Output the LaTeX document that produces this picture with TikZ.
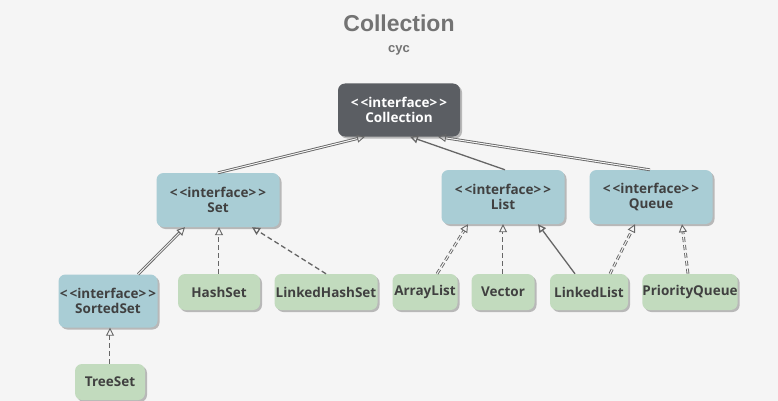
\documentclass[tikz,border=0pt]{standalone}
\usepackage{fontspec}
\setmainfont{Open Sans}
\newfontfamily\titlefont{Liberation Sans}
\usepackage{tikz}
\usetikzlibrary{arrows.meta, positioning, calc, shadows}
\definecolor{bgcol}{HTML}{F5F5F5}
\definecolor{ifacecol}{HTML}{A9CDD5}
\definecolor{implcol}{HTML}{C2DBBE}
\definecolor{rootcol}{HTML}{5B5E63}
\definecolor{textcol}{HTML}{404040}
\definecolor{linecol}{HTML}{666666}
\newcommand{\ifacetag}{<\kern2pt<interface>\kern2pt>}

\begin{document}
\begin{tikzpicture}[x=1pt, y=-1pt,
    box/.style={rounded corners=7pt, align=center, text=textcol, inner sep=2pt,
        font=\bfseries\fontsize{13.5}{15}\selectfont,
        drop shadow={shadow xshift=2pt, shadow yshift=-2pt, fill=black!28, opacity=1}},
    iface/.style={box, fill=ifacecol, minimum height=54pt},
    impl/.style={box, fill=implcol, minimum height=36pt},
    gen/.style={draw=linecol, line width=1.3pt, -{Triangle[open, length=8pt, width=8pt]}},
    dbl/.style={double=bgcol, double distance=1pt, line width=0.9pt},
    realize/.style={dash pattern=on 5pt off 3pt}]

    % Background
    \fill[bgcol] (0, 0) rectangle (778, 401);
    \useasboundingbox (0, 0) rectangle (778, 401);

    % Title
    \node[font=\titlefont\bfseries\fontsize{23}{25}\selectfont, text=black!55] (title) at (399, 23) {Collection};
    \node[font=\titlefont\bfseries\fontsize{13}{14}\selectfont, text=black!55] (sub) at (399, 50) {cyc};

    % Root
    \node[box, fill=rootcol, text=white, minimum width=122pt, minimum height=53pt] (Collection) at (399, 110) {\ifacetag\\Collection};

    % Interfaces
    \node[iface, minimum width=123pt] (Set) at (218, 200) {\ifacetag\\Set};
    \node[iface, minimum width=123pt] (List) at (503, 197) {\ifacetag\\List};
    \node[iface, minimum width=123pt] (Queue) at (651, 197) {\ifacetag\\Queue};
    \node[iface, minimum width=99pt, minimum height=53pt, inner sep=0pt] (SortedSet) at (108, 301) {\ifacetag\\SortedSet};

    % Classes
    \node[impl, minimum width=82pt] (HashSet) at (219, 292) {HashSet};
    \node[impl, minimum width=103pt, inner sep=0pt] (LinkedHashSet) at (326, 292) {LinkedHashSet};
    \node[impl, minimum width=65pt, inner sep=0pt] (ArrayList) at (425, 292) {ArrayList};
    \node[impl, minimum width=63pt] (Vector) at (503, 292) {Vector};
    \node[impl, minimum width=78pt] (LinkedList) at (589, 292) {LinkedList};
    \node[impl, minimum width=95pt, inner sep=0pt] (PriorityQueue) at (690, 292) {PriorityQueue};
    \node[impl, minimum width=70pt] (TreeSet) at (110, 382) {TreeSet};

    % Extends
    \draw[gen, dbl] (Set.north) -- ([xshift=-34pt]Collection.south);
    \draw[gen] ([xshift=2pt]List.north) -- ([xshift=11pt]Collection.south);
    \draw[gen, dbl] ([xshift=-1pt]Queue.north) -- ([xshift=39pt]Collection.south);
    \draw[gen, dbl] ([xshift=30pt]SortedSet.north) -- ([xshift=-33pt]Set.south);
    \draw[gen] ([xshift=-14pt]LinkedList.north) -- ([xshift=35pt]List.south);

    % Implements
    \draw[gen, dbl, realize] (HashSet.north) -- (HashSet.north |- Set.south);
    \draw[gen, realize] (LinkedHashSet.north) -- ([xshift=34pt]Set.south);
    \draw[gen, dbl, realize] ([xshift=12pt]ArrayList.north) -- ([xshift=-35pt]List.south);
    \draw[gen, dbl, realize] (Vector.north) -- (List.south);
    \draw[gen, dbl, realize] ([xshift=21pt]LinkedList.north) -- ([xshift=-16pt]Queue.south);
    \draw[gen, dbl, realize] ([xshift=-2pt]PriorityQueue.north) -- ([xshift=31pt]Queue.south);
    \draw[gen, dbl, realize] (TreeSet.north) -- (TreeSet.north |- SortedSet.south);
\end{tikzpicture}
\end{document}
